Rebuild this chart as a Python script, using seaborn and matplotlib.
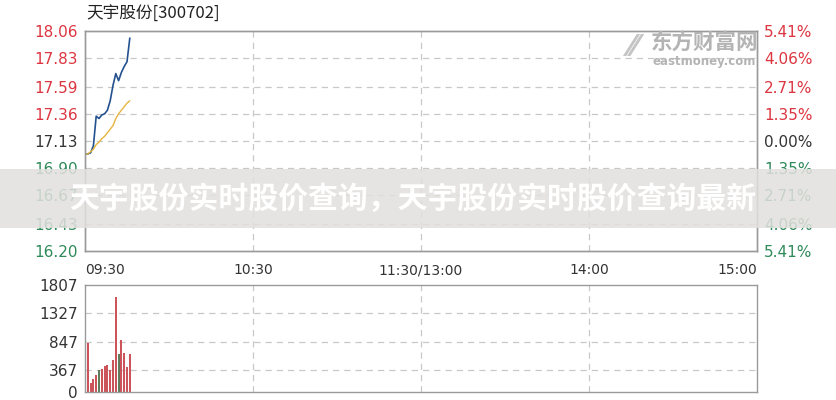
import numpy as np
import pandas as pd
import matplotlib
matplotlib.use("Agg")
import matplotlib.pyplot as plt
import seaborn as sns
from matplotlib.patches import Rectangle

sns.set_theme(style="white")
plt.rcParams["font.family"] = ["DejaVu Sans", "Noto Sans CJK SC"]

# --- data ---
title = "天宇股份[300702]"
price_ticks = [16.20, 16.43, 16.67, 16.90, 17.13, 17.36, 17.59, 17.83, 18.06]
pct_labels = ["5.41%", "4.06%", "2.71%", "1.35%", "0.00%", "1.35%", "2.71%", "4.06%", "5.41%"]
time_ticks = [0, 60, 120, 180, 240]
time_labels = ["09:30", "10:30", "11:30/13:00", "14:00", "15:00"]
vol_ticks = [0, 367, 847, 1327, 1807]

price_minutes = list(range(17))
price = [17.02, 17.02, 17.03, 17.09, 17.34, 17.32, 17.35, 17.36, 17.39,
         17.47, 17.60, 17.70, 17.64, 17.71, 17.76, 17.80, 18.00]
avg_price = [17.02, 17.02, 17.04, 17.06, 17.10, 17.12, 17.15, 17.17, 17.20,
             17.23, 17.26, 17.32, 17.36, 17.39, 17.42, 17.45, 17.47]

vol_minutes = list(range(1, 17))
volume = [832, 148, 217, 286, 373, 396, 435, 457, 370, 538, 1600, 636, 880, 664, 430, 634]
vol_dir = ["up", "up", "up", "up", "down", "up", "up", "up", "up", "up",
           "up", "down", "up", "up", "up", "up"]

banner = "天宇股份实时股价查询，天宇股份实时股价查询最新"

RED = "#dc3540"
GREEN = "#2f8a5a"
DARK = "#333333"
GRID = "#c8c8c8"
FRAME = "#9a9a9a"

fig = plt.figure(figsize=(8.37, 4.00), dpi=100)
ax = fig.add_axes([85 / 837, 149 / 400, 672 / 837, 220 / 400])
axv = fig.add_axes([85 / 837, 8 / 400, 672 / 837, 107 / 400])

price_df = pd.DataFrame({"minute": price_minutes, "price": price, "avg": avg_price})
sns.lineplot(data=price_df, x="minute", y="price", color="#24518f", linewidth=1.2, ax=ax)
sns.lineplot(data=price_df, x="minute", y="avg", color="#e6b440", linewidth=1.0, ax=ax)

ax.set_xlim(0, 240)
ax.set_ylim(price_ticks[0], price_ticks[-1])
ax.set_xlabel("")
ax.set_ylabel("")
ax.set_yticks(price_ticks)
ax.set_yticklabels([f"{v:.2f}" for v in price_ticks])
for lab, v in zip(ax.get_yticklabels(), price_ticks):
    lab.set_color(RED if v > 17.13 + 1e-6 else (GREEN if v < 17.13 - 1e-6 else DARK))
ax.tick_params(axis="y", length=0, pad=5, labelsize=11)
ax.set_xticks(time_ticks)
ax.set_xticklabels(time_labels)
ax.tick_params(axis="x", length=0, pad=9, labelsize=10, colors=DARK)
xl = ax.get_xticklabels()
xl[0].set_horizontalalignment("left")
xl[-1].set_horizontalalignment("right")

for v in price_ticks[1:-1]:
    ax.axhline(v, color=GRID, linestyle=(0, (5, 4)), linewidth=0.9, zorder=0)
for t in time_ticks[1:-1]:
    ax.axvline(t, color=GRID, linestyle=(0, (5, 4)), linewidth=0.9, zorder=0)

axr = ax.twinx()
axr.set_ylim(price_ticks[0], price_ticks[-1])
axr.set_yticks(price_ticks)
axr.set_yticklabels(pct_labels[::-1])
for lab, v in zip(axr.get_yticklabels(), price_ticks):
    lab.set_color(RED if v > 17.13 + 1e-6 else (GREEN if v < 17.13 - 1e-6 else DARK))
axr.tick_params(axis="y", length=0, pad=5, labelsize=11)
axr.grid(False)

for a in (ax, axr, axv):
    for s in a.spines.values():
        s.set_color(FRAME)
        s.set_linewidth(1.0)

# volume
vol_df = pd.DataFrame({"minute": vol_minutes, "volume": volume, "dir": vol_dir})
sns.barplot(data=vol_df, x="minute", y="volume", hue="dir", native_scale=True,
            palette={"up": "#e0404a", "down": "#5a8257"}, dodge=False, width=0.75,
            legend=False, ax=axv, linewidth=0)
axv.set_xlim(0, 240)
axv.set_ylim(0, vol_ticks[-1])
axv.set_xlabel("")
axv.set_ylabel("")
axv.set_xticks(time_ticks)
axv.set_xticklabels([])
axv.tick_params(axis="x", length=0)
axv.set_yticks(vol_ticks)
axv.set_yticklabels([str(v) for v in vol_ticks])
axv.tick_params(axis="y", length=0, pad=5, labelsize=11, colors=DARK)
for v in vol_ticks[1:-1]:
    axv.axhline(v, color=GRID, linestyle=(0, (5, 4)), linewidth=0.9, zorder=0)
for t in time_ticks[1:-1]:
    axv.axvline(t, color=GRID, linestyle=(0, (5, 4)), linewidth=0.9, zorder=0)

fig.text(86 / 837, 1 - 14 / 400, title, fontsize=12, color="#222222",
         ha="left", va="center", family=["Noto Sans CJK SC", "DejaVu Sans"])

# watermark
fig.text(705 / 837, 1 - 43 / 400, "东方财富网", fontsize=15.5, color="#b4b4b4",
         fontweight="bold", ha="center", va="center", family=["Noto Sans CJK SC"])
fig.text(704 / 837, 1 - 61 / 400, "eastmoney.com", fontsize=8.5, color="#b4b4b4",
         fontweight="bold", ha="center", va="center")
fig.text(633 / 837, 1 - 48 / 400, "⁄⁄", fontsize=22, color="#c4c4c4",
         fontweight="bold", ha="center", va="center")

# banner overlay
fig.patches.append(Rectangle((0, 1 - 228 / 400), 1, 59 / 400, transform=fig.transFigure,
                             facecolor="#e2e0dd", alpha=0.85, edgecolor="none", zorder=5))
fig.text(413 / 837, 1 - 199 / 400, banner, fontsize=21.5, color="white", fontweight="bold",
         ha="center", va="center", family=["Noto Sans CJK SC", "DejaVu Sans"], zorder=6)

fig.savefig("out.png", dpi=100)
